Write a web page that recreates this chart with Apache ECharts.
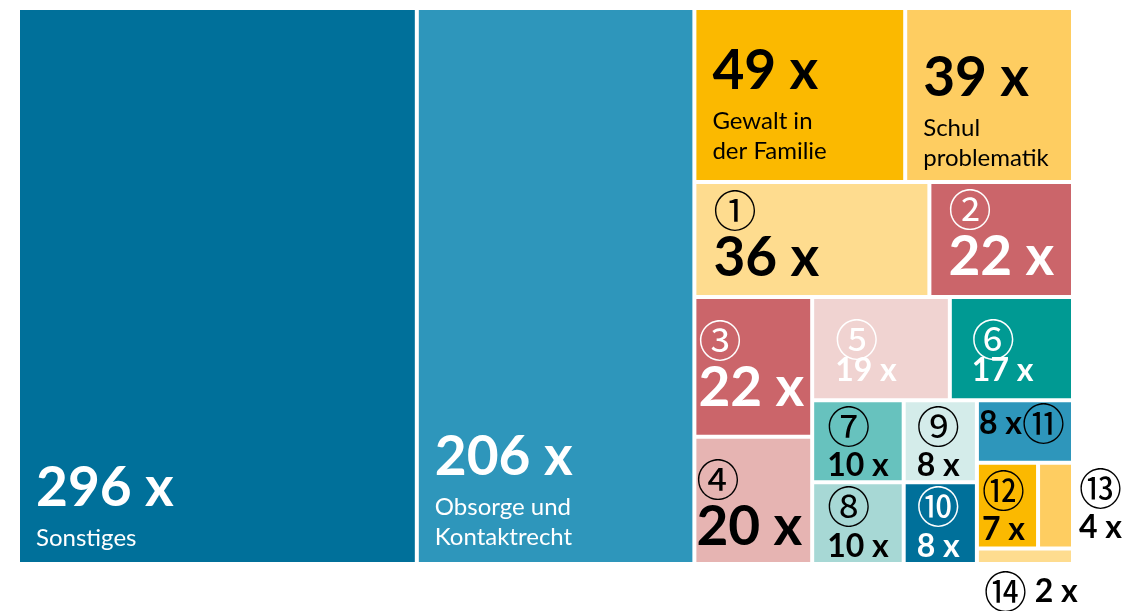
<!DOCTYPE html>
<html>
<head>
<meta charset="utf-8">
<script src="https://cdn.jsdelivr.net/npm/echarts@6/dist/echarts.min.js"></script>
<style>
  html, body { margin: 0; background: #fff; }
  #chart { width: 1147px; height: 611px; }
</style>
</head>
<body>
<div id="chart"></div>
<script>
// named topics
const topicNames = ['Sonstiges', 'Obsorge und\nKontaktrecht', 'Gewalt in\nder Familie', 'Schul\nproblematik'];
const topicCounts = [296, 206, 49, 39];
// numbered topics
const caseMarks = ['①', '②', '③', '④', '⑤', '⑥', '⑦', '⑧', '⑨', '⑩', '⑪', '⑫', '⑬', '⑭'];
const caseCounts = [36, 22, 22, 20, 19, 17, 10, 10, 8, 8, 8, 7, 4, 2];
// ⑫ and ⑬ sit side by side in one block
const pairedCases = [11, 12];

const topicColors = ['#00709a', '#2e96bb', '#fbb900', '#fecd61'];
const topicInk = ['#fff', '#fff', '#000', '#000'];
const caseColors = ['#fedc8f', '#cb656a', '#cb656a', '#e6b4b2', '#f0d3d1', '#009a93', '#67c2be',
  '#a7d8d5', '#d4ecea', '#00709a', '#2e96bb', '#fbb900', '#fecd61', '#fedc8f'];
const caseInk = ['#000', '#fff', '#fff', '#000', '#fff', '#fff', '#000',
  '#000', '#000', '#fff', '#000', '#000', '#000', '#000'];

const FONT = 'Lato, "Noto Sans", sans-serif';
const RING_FONT = '"Noto Sans CJK JP", "DejaVu Sans", sans-serif';

// label placement (padding: top, left); the label box spans the whole tile,
// so text near the bottom is pushed down with a large top padding
const topicPad = [[443, 16], [412, 16], [26, 16], [33, 16]];
const caseLabel = [
  { pad: [9, 17], num: 'bigc' },
  { pad: [8, 17], num: 'bigc' },
  { pad: [24, 2], num: 'bigc' },
  { pad: [23, 0], num: 'bigc' },
  { pad: [23, 21], num: 'midt' },
  { pad: [23, 20], num: 'midt' },
  { pad: [6, 13], num: 'mid' },
  { pad: [5, 13], num: 'mid' },
  { pad: [6, 11], num: 'mid' },
  { pad: [5, 11], num: 'mid' },
  { kind: 'inline', num: 'mid' },
  { pad: [8, 3], num: 'mid' },
  { kind: 'right', num: 'mid' },
  { kind: 'below', num: 'mid' }
];

const topicNodes = topicNames.map((name, i) => ({
  name: name.replace('\n', ' '),
  value: topicCounts[i],
  itemStyle: { color: topicColors[i] },
  label: {
    position: 'insideTopLeft',
    padding: [topicPad[i][0], 0, -40, topicPad[i][1]],
    color: topicInk[i],
    formatter: '{big|' + topicCounts[i] + ' x}\n{txt|' + name + '}'
  }
}));

const caseNodes = caseMarks.map((mark, i) => {
  const cfg = caseLabel[i];
  const count = caseCounts[i] + ' x';
  const label = { color: caseInk[i] };
  if (cfg.kind === 'inline') {
    label.position = 'insideLeft';
    label.padding = [0, 0, 0, 0];
    label.formatter = '{' + cfg.num + '|' + count + '}{ring|' + mark + '}';
  } else if (cfg.kind === 'right') {
    label.position = 'right';
    label.distance = 8;
    label.offset = [0, 6];
    label.padding = [0, 0, -40, 0];
    label.formatter = '{ring|' + mark + '}\n{' + cfg.num + '|' + count + '}';
  } else if (cfg.kind === 'below') {
    label.position = [5, 20];
    label.padding = [0, 0, -40, 0];
    label.formatter = '{ring|' + mark + '}{' + cfg.num + '| ' + count + '}';
  } else {
    label.position = 'insideTopLeft';
    label.padding = [cfg.pad[0], 0, -40, cfg.pad[1]];
    label.formatter = '{ring|' + mark + '}\n{' + cfg.num + '|' + count + '}';
  }
  return {
    name: mark,
    value: caseCounts[i],
    itemStyle: { color: caseColors[i] },
    label: label
  };
});

const treeData = topicNodes.slice();
caseNodes.forEach((node, i) => {
  if (i === pairedCases[0]) {
    treeData.push({ name: 'pair', children: pairedCases.map(k => caseNodes[k]) });
  } else if (pairedCases.indexOf(i) < 0) {
    treeData.push(node);
  }
});

const chart = echarts.init(document.getElementById('chart'));
chart.setOption({
  animation: false,
  series: [{
    type: 'treemap',
    left: 20,
    top: 10,
    right: 76,
    bottom: 49,
    roam: false,
    nodeClick: false,
    sort: false,
    squareRatio: 0.75,
    breadcrumb: { show: false },
    itemStyle: { gapWidth: 4, borderWidth: 0, borderColor: '#fff' },
    upperLabel: { show: false },
    label: {
      show: true,
      distance: 0,
      overflow: 'none',
      fontFamily: FONT,
      rich: {
        big: { fontFamily: FONT, fontSize: 55, fontWeight: 'bold', lineHeight: 70 },
        bigc: { fontFamily: FONT, fontSize: 55, fontWeight: 'bold', lineHeight: 58 },
        mid: { fontFamily: FONT, fontSize: 32, fontWeight: 'bold', lineHeight: 43 },
        midt: { fontFamily: FONT, fontSize: 32, fontWeight: 'bold', lineHeight: 25 },
        txt: { fontFamily: FONT, fontSize: 24, lineHeight: 30 },
        ring: { fontFamily: RING_FONT, fontSize: 43, lineHeight: 36 }
      }
    },
    emphasis: { disabled: true },
    data: treeData
  }]
});
</script>
</body>
</html>
